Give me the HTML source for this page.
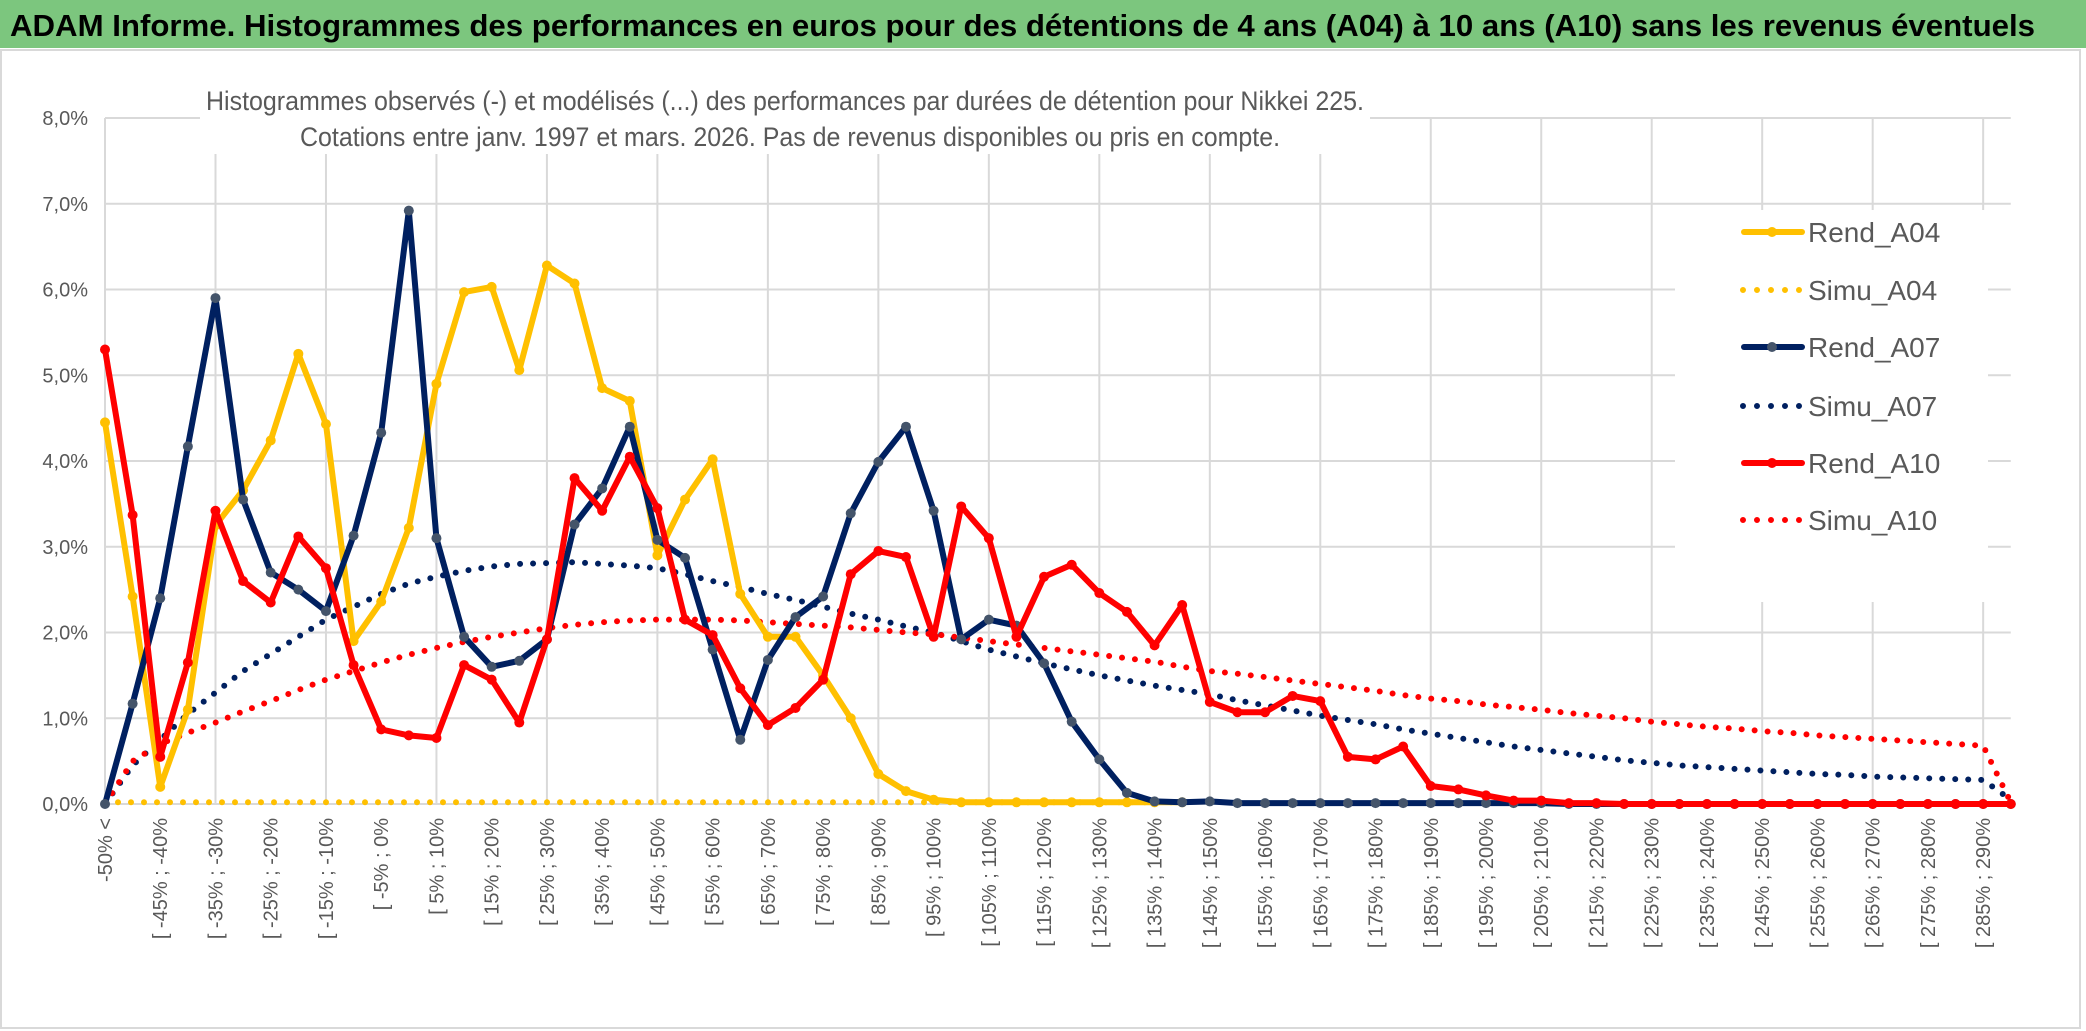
<!DOCTYPE html>
<html><head><meta charset="utf-8"><style>
html,body{margin:0;padding:0;background:#fff;}
svg{display:block;}
text{font-family:"Liberation Sans Narrow","Liberation Sans",sans-serif;}
</style></head><body>
<svg id="chart" width="2086" height="1031" viewBox="0 0 2086 1031" xmlns="http://www.w3.org/2000/svg">
<rect x="0" y="0" width="2086" height="1031" fill="#fff"/>
<rect x="1" y="50" width="2079" height="978" fill="#fff" stroke="#d9d9d9" stroke-width="2"/>
<rect x="0" y="0" width="2086" height="48" fill="#7CC67E"/>
<text x="10" y="36" font-size="31" font-weight="bold" fill="#000" textLength="2025" lengthAdjust="spacingAndGlyphs">ADAM Informe. Histogrammes des performances en euros pour des détentions de 4 ans (A04) à 10 ans (A10) sans les revenus éventuels</text>
<g id="grid"></g>
<g id="yaxis"></g>
<g id="xaxis"></g>
<rect x="200" y="80" width="1170" height="74" fill="#fff"/>
<text x="785" y="110" font-size="27" fill="#595959" text-anchor="middle" textLength="1158" lengthAdjust="spacingAndGlyphs">Histogrammes observés (-) et modélisés (...) des performances par durées de détention pour Nikkei 225.</text>
<text x="790" y="146" font-size="27" fill="#595959" text-anchor="middle" textLength="980" lengthAdjust="spacingAndGlyphs">Cotations entre janv. 1997 et mars. 2026. Pas de revenus disponibles ou pris en compte.</text>
<g id="series"></g>
<rect x="1675" y="210" width="313" height="392" fill="#fff"/>
<g id="legend"></g>
</svg>
<script>
const categories = ["-50% <","[ -50% ; -45%","[ -45% ; -40%","[ -40% ; -35%","[ -35% ; -30%","[ -30% ; -25%","[ -25% ; -20%","[ -20% ; -15%","[ -15% ; -10%","[ -10% ; -5%","[ -5% ; 0%","[ 0% ; 5%","[ 5% ; 10%","[ 10% ; 15%","[ 15% ; 20%","[ 20% ; 25%","[ 25% ; 30%","[ 30% ; 35%","[ 35% ; 40%","[ 40% ; 45%","[ 45% ; 50%","[ 50% ; 55%","[ 55% ; 60%","[ 60% ; 65%","[ 65% ; 70%","[ 70% ; 75%","[ 75% ; 80%","[ 80% ; 85%","[ 85% ; 90%","[ 90% ; 95%","[ 95% ; 100%","[ 100% ; 105%","[ 105% ; 110%","[ 110% ; 115%","[ 115% ; 120%","[ 120% ; 125%","[ 125% ; 130%","[ 130% ; 135%","[ 135% ; 140%","[ 140% ; 145%","[ 145% ; 150%","[ 150% ; 155%","[ 155% ; 160%","[ 160% ; 165%","[ 165% ; 170%","[ 170% ; 175%","[ 175% ; 180%","[ 180% ; 185%","[ 185% ; 190%","[ 190% ; 195%","[ 195% ; 200%","[ 200% ; 205%","[ 205% ; 210%","[ 210% ; 215%","[ 215% ; 220%","[ 220% ; 225%","[ 225% ; 230%","[ 230% ; 235%","[ 235% ; 240%","[ 240% ; 245%","[ 245% ; 250%","[ 250% ; 255%","[ 255% ; 260%","[ 260% ; 265%","[ 265% ; 270%","[ 270% ; 275%","[ 275% ; 280%","[ 280% ; 285%","[ 285% ; 290%","[ 290% ; 295%"];
const rendA04 = [4.45,2.42,0.2,1.1,3.25,3.66,4.24,5.25,4.43,1.9,2.36,3.22,4.9,5.97,6.03,5.06,6.28,6.07,4.85,4.7,2.9,3.55,4.02,2.45,1.95,1.95,1.5,1.0,0.35,0.15,0.05,0.02,0.02,0.02,0.02,0.02,0.02,0.02,0.02,0.02,0,0,0,0,0,0,0,0,0,0,0,0,0,0,0,0,0,0,0,0,0,0,0,0,0,0,0,0,0,0];
const simuA04 = [0.02,0.02,0.02,0.02,0.02,0.02,0.02,0.02,0.02,0.02,0.02,0.02,0.02,0.02,0.02,0.02,0.02,0.02,0.02,0.02,0.02,0.02,0.02,0.02,0.02,0.02,0.02,0.02,0.02,0.02,0.02,0.02,0.02,0.02,0.02,0.02,0.02,0.02,0.02,0.02,0,0,0,0,0,0,0,0,0,0,0,0,0,0,0,0,0,0,0,0,0,0,0,0,0,0,0,0,0,0];
const rendA07 = [0,1.17,2.4,4.17,5.9,3.55,2.7,2.5,2.25,3.13,4.33,6.92,3.1,1.95,1.6,1.67,1.92,3.26,3.68,4.4,3.08,2.87,1.8,0.75,1.68,2.18,2.42,3.39,3.99,4.4,3.42,1.92,2.15,2.08,1.64,0.96,0.52,0.13,0.03,0.02,0.03,0.01,0.01,0.01,0.01,0.01,0.01,0.01,0.01,0.01,0.01,0.01,0.01,0,0,0,0,0,0,0,0,0,0,0,0,0,0,0,0,0];
const simuA07 = [0,0.45,0.75,1.05,1.3,1.55,1.75,1.95,2.15,2.3,2.45,2.57,2.65,2.72,2.77,2.8,2.81,2.82,2.8,2.78,2.75,2.68,2.6,2.53,2.45,2.38,2.3,2.22,2.15,2.07,2.0,1.9,1.8,1.72,1.64,1.57,1.5,1.44,1.38,1.33,1.28,1.21,1.15,1.09,1.03,0.98,0.93,0.87,0.82,0.77,0.72,0.67,0.63,0.59,0.55,0.51,0.48,0.45,0.43,0.41,0.39,0.37,0.35,0.34,0.32,0.31,0.3,0.29,0.28,0.05];
const rendA10 = [5.3,3.37,0.55,1.65,3.42,2.6,2.35,3.12,2.75,1.62,0.87,0.8,0.77,1.62,1.45,0.95,1.92,3.8,3.42,4.05,3.45,2.15,1.97,1.35,0.92,1.12,1.45,2.68,2.95,2.88,1.95,3.47,3.1,1.95,2.65,2.79,2.46,2.24,1.85,2.32,1.19,1.07,1.07,1.26,1.2,0.55,0.52,0.67,0.21,0.17,0.1,0.04,0.04,0.01,0.01,0,0,0,0,0,0,0,0,0,0,0,0,0,0,0];
const simuA10 = [0,0.5,0.7,0.83,0.95,1.08,1.2,1.33,1.45,1.55,1.65,1.74,1.82,1.89,1.95,2.0,2.05,2.09,2.12,2.14,2.15,2.15,2.15,2.14,2.12,2.1,2.08,2.06,2.03,2.0,1.98,1.94,1.9,1.86,1.82,1.78,1.74,1.7,1.66,1.6,1.55,1.52,1.48,1.44,1.4,1.36,1.32,1.27,1.23,1.2,1.16,1.13,1.1,1.06,1.03,1.0,0.96,0.93,0.9,0.88,0.85,0.83,0.8,0.78,0.76,0.74,0.72,0.7,0.68,0.02];
const yTicks = [0,1,2,3,4,5,6,7,8];
const yTickLabels = ["0,0%","1,0%","2,0%","3,0%","4,0%","5,0%","6,0%","7,0%","8,0%"];

const NS="http://www.w3.org/2000/svg";
const X0=105, XSTEP=27.62, Y0=804, YUNIT=85.75;
function xPos(i){return X0+i*XSTEP;}
function yPos(v){return Y0-v*YUNIT;}
function mk(tag,attrs,parent){const e=document.createElementNS(NS,tag);for(const k in attrs)e.setAttribute(k,attrs[k]);parent.appendChild(e);return e;}

const grid=document.getElementById('grid');
yTicks.forEach((t,k)=>{
  const l=mk('line',{x1:X0,x2:xPos(categories.length-1),y1:yPos(t),y2:yPos(t),stroke:'#d9d9d9','stroke-width':2},grid);
  
  
  const tx=mk('text',{x:88,y:yPos(t)+7,'font-size':20,fill:'#595959','text-anchor':'end'},document.getElementById('yaxis'));
  tx.textContent=yTickLabels[k];
  
  
});
for(let i=0;i<categories.length;i+=4){
  const l=mk('line',{x1:xPos(i),x2:xPos(i),y1:yPos(8),y2:Y0,stroke:'#d9d9d9','stroke-width':2},grid);
  
  
}
const xa=document.getElementById('xaxis');
categories.forEach((c,i)=>{
  if(i%2!==0)return;
  const x=xPos(i)+7, y=818;
  const t=mk('text',{x:x,y:y,'font-size':20,fill:'#595959','text-anchor':'end',transform:`rotate(-90 ${x} ${y})`},xa);
  t.textContent=c;
  
  
});

const ser=document.getElementById('series');
function dotted(vals,color,name){
  const n=vals.filter(v=>v!==null).length;
  const pts=vals.map((v,i)=>xPos(i)+','+yPos(v)).join(' ');
  const p=mk('polyline',{points:pts,fill:'none',stroke:color,'stroke-width':6,'stroke-linecap':'round','stroke-dasharray':'0 13'},ser);
  
  
}
function solid(vals,color,mcolor,name){
  const pts=vals.map((v,i)=>xPos(i)+','+yPos(v)).join(' ');
  const p=mk('polyline',{points:pts,fill:'none',stroke:color,'stroke-width':6,'stroke-linejoin':'round'},ser);
  
  
  vals.forEach((v,i)=>{
    const c=mk('circle',{cx:xPos(i),cy:yPos(v),r:5,fill:mcolor},ser);
    
    
  });
}
dotted(simuA04.slice(0,40),'#FFC000','simu-a04-line');
dotted(simuA07,'#002060','simu-a07-line');
dotted(simuA10,'#FF0000','simu-a10-line');
solid(rendA04.slice(0,40),'#FFC000','#FFC000','rend-a04-line');
solid(rendA07,'#002060','#44546A','rend-a07-line');
solid(rendA10,'#FF0000','#FF0000','rend-a10-line');

const legendItems=[["Rend_A04","#FFC000","#FFC000",false],["Simu_A04","#FFC000",null,true],["Rend_A07","#002060","#44546A",false],["Simu_A07","#002060",null,true],["Rend_A10","#FF0000","#FF0000",false],["Simu_A10","#FF0000",null,true]];
const lg=document.getElementById('legend');
const legendY=[232,290,347,406,463,520];
legendItems.forEach((it,k)=>{
  const y=legendY[k];
  const g=mk('g',{},lg);
  
  
  if(it[3]){
    mk('line',{x1:1743,x2:1800,y1:y,y2:y,stroke:it[1],'stroke-width':6,'stroke-linecap':'round','stroke-dasharray':'0 14'},g);
  }else{
    mk('line',{x1:1744,x2:1802,y1:y,y2:y,stroke:it[1],'stroke-width':6,'stroke-linecap':'round'},g);
    mk('circle',{cx:1772,cy:y,r:5,fill:it[2]},g);
  }
  const t=mk('text',{x:1808,y:y+10,'font-size':28,fill:'#595959'},g);
  t.textContent=it[0];
});
</script>
</body></html>
